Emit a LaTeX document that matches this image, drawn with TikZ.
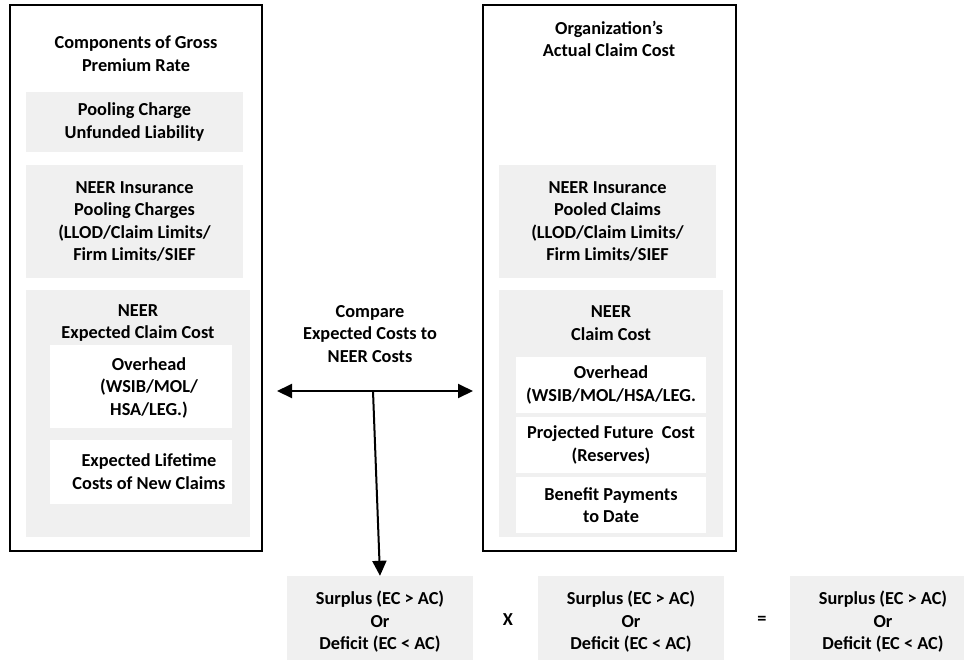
\documentclass[tikz,border=0pt]{standalone}
\usepackage{fontspec}
\setmainfont{Carlito}
\usetikzlibrary{arrows.meta}
\definecolor{gfill}{RGB}{240,240,240}
\begin{document}
\begin{tikzpicture}[x=1pt,y=-1pt,
  every node/.style={font=\fontsize{18.3}{22.5}\selectfont\bfseries, align=center, inner sep=0pt},
  outer/.style={draw=black, line width=1.6pt, fill=white},
  graybox/.style={fill=gfill},
  whitebox/.style={fill=white},
  conn/.style={line width=2pt, -{Triangle[length=15pt,width=14pt]}},
  conn2/.style={line width=2pt, {Triangle[length=15pt,width=14pt]}-{Triangle[length=15pt,width=14pt]}}]
\clip (0,0) rectangle (964,659);
\fill[white] (0,0) rectangle (964,659);

% left column
\node[outer, minimum width=252pt, minimum height=546pt] (lo) at (136,278) {};
\node (lt) at (136,53.5) {Components of Gross\\Premium Rate};
\node[graybox, minimum width=217pt, minimum height=60pt] (lg1) at (134.5,122) {Pooling Charge\\Unfunded Liability};
\node[graybox, minimum width=217pt, minimum height=113pt] (lg2) at (134.5,221.5) {NEER Insurance\\Pooling Charges\\(LLOD/Claim Limits/\\Firm Limits/SIEF};
\node[graybox, minimum width=224pt, minimum height=247pt] (lg3) at (138,413.5) {};
\node (lg3t) at (138,323) {NEER\\Expected Claim Cost};
\node[whitebox, minimum width=182pt, minimum height=83pt] (lw1) at (141,386.5) {};
\node (lw1t) at (149,387.5) {Overhead\\(WSIB/MOL/\\HSA/LEG.)};
\node[whitebox, minimum width=182pt, minimum height=64pt] (lw2) at (141,472) {};
\node (lw2t) at (149,471.5) {Expected Lifetime\\Costs of New Claims};

% right column
\node[outer, minimum width=253pt, minimum height=546pt] (ro) at (609.5,278) {};
\node (rt) at (609,39) {Organization’s\\Actual Claim Cost};
\node[graybox, minimum width=217pt, minimum height=113pt] (rg2) at (607.5,221.5) {NEER Insurance\\Pooled Claims\\(LLOD/Claim Limits/\\Firm Limits/SIEF};
\node[graybox, minimum width=224pt, minimum height=247pt] (rg3) at (611,413.5) {};
\node (rg3t) at (611,323) {NEER\\Claim Cost};
\node[whitebox, minimum width=190pt, minimum height=56pt] (rw1) at (611,385) {Overhead\\(WSIB/MOL/HSA/LEG.};
\node[whitebox, minimum width=190pt, minimum height=56pt] (rw2) at (611,445) {Projected Future\ \ Cost\\(Reserves)};
\node[whitebox, minimum width=190pt, minimum height=56pt] (rw3) at (611,505) {Benefit Payments\\to Date};

% compare
\node (cmp) at (370,334) {Compare\\Expected Costs to\\NEER Costs};
\coordinate (aL) at (277,391);
\coordinate (aR) at (473,391);
\coordinate (aJ) at (373,391);

% bottom row
\node[graybox, minimum width=186pt, minimum height=92pt] (b1) at (380,622) {Surplus (EC > AC)\\Or\\Deficit (EC < AC)};
\node (x) at (508,620) {X};
\node[graybox, minimum width=186pt, minimum height=92pt] (b2) at (631,622) {Surplus (EC > AC)\\Or\\Deficit (EC < AC)};
\node (eq) at (762,620) {=};
\node[graybox, minimum width=186pt, minimum height=92pt] (b3) at (883,622) {Surplus (EC > AC)\\Or\\Deficit (EC < AC)};

\draw[conn2] (aL) -- (aR);
\draw[conn] (aJ) -- (b1.north);
\end{tikzpicture}
\end{document}
